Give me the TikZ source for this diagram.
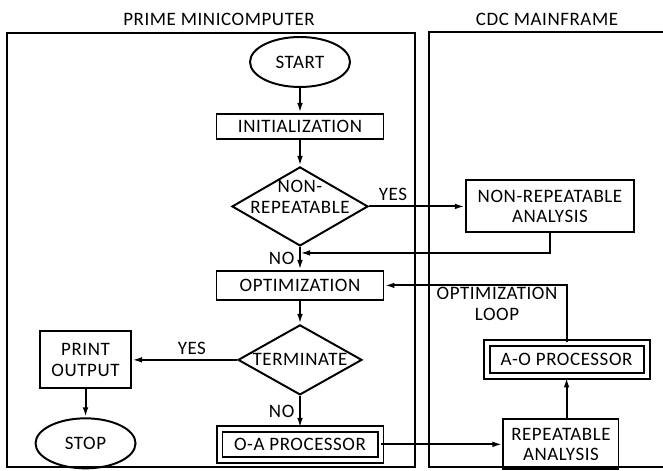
\documentclass[tikz,border=0pt]{standalone}
\usepackage{fontspec}
\setmainfont{Carlito}[LetterSpace=3]
\usetikzlibrary{positioning,shapes.geometric,arrows.meta}

\begin{document}
\begin{tikzpicture}[x=0.25mm, y=0.25mm, font=\fontsize{13.5}{14.5}\selectfont]
\tikzstyle{proc}=[rectangle, draw, line width=1.4pt, align=center, inner sep=1mm]
\tikzstyle{subproc}=[rectangle, draw, double, double distance=1mm, line width=1.4pt]
\tikzstyle{terminal}=[ellipse, draw, line width=1.4pt, minimum width=25mm, minimum height=12.5mm]
\tikzstyle{decision}=[diamond, draw, line width=1.4pt, inner sep=-4mm]
\tikzstyle{connect}=[-{Latex[length=2.5mm,width=1.4mm]}, line width=1.4pt]
\tikzstyle{panel}=[line width=1.4pt]
  \useasboundingbox (0,0) rectangle (663,471);
  % the two computers
  \draw[panel] (7,4) rectangle (415,438);
  \draw[panel] (663,439) -- (429,439) -- (429,4) -- (663,4);
  \node (primetitle) at (219,452) {PRIME MINICOMPUTER};
  \node (cdctitle) at (547,452) {CDC MAINFRAME};
  % main column
  \node[terminal] (start) at (300,409) {START};
  \node[proc, minimum width=41.75mm, minimum height=6.25mm] (init) [below=6.25mm of start] {INITIALIZATION};
  \node[decision, minimum width=34mm, minimum height=19.75mm] (nonrep) [below=6.5mm of init] {};
  \node[align=center] (nonreptext) at ([yshift=2.4mm]nonrep.center) {NON-\\REPEATABLE};
  \node[proc, minimum width=41.75mm, minimum height=7.25mm] (opt) [below=5.75mm of nonrep] {OPTIMIZATION};
  \node[decision, minimum width=31mm, minimum height=17.5mm] (termin) [below=5.75mm of opt] {TERMINATE};
  \node[subproc, minimum width=40.25mm, minimum height=7.75mm] (oa) [below=8mm of termin] {O-A PROCESSOR};
  \node[proc, minimum width=22.75mm, minimum height=14.25mm] (print) [left=26.25mm of termin] {PRINT\\OUTPUT};
  \node[terminal] (stop) [below=7mm of print] {STOP};
  % mainframe side
  \node[proc, minimum width=42mm, minimum height=13mm] (nra) [right=24mm of nonrep] {NON-REPEATABLE\\ANALYSIS};
  \node[proc, minimum width=28.75mm, minimum height=12.5mm] (ra) [right=30.25mm of oa] {REPEATABLE\\ANALYSIS};
  \node[subproc, minimum width=40mm, minimum height=8.25mm] (ao) [above=10.25mm of ra, xshift=1.4mm] {A-O PROCESSOR};
  \node[align=center] (looplabel) at (497,167) {OPTIMIZATION\\LOOP};
  \coordinate (join) at ([yshift=-1.5mm]nonrep.south);
  \path (start) edge [connect] (init)
        (init) edge [connect] (nonrep)
        (nonrep) edge [connect] node[above, pos=0.25] (yes1) {YES} (nra)
        (nonrep) edge [connect] node[left] (no1) {NO} (opt)
        (opt) edge [connect] (termin)
        (termin) edge [connect] node[above, pos=0.43] (yes2) {YES} (print)
        (termin) edge [connect] node[left] (no2) {NO} (oa)
        (print) edge [connect] (stop)
        (oa) edge [connect] (ra)
        (ao.south |- ra.north) edge [connect] (ao.south);
  \draw[connect] (nra.south) |- (join);
  \draw[connect] (ao.north) |- (opt.east);
\end{tikzpicture}
\end{document}
